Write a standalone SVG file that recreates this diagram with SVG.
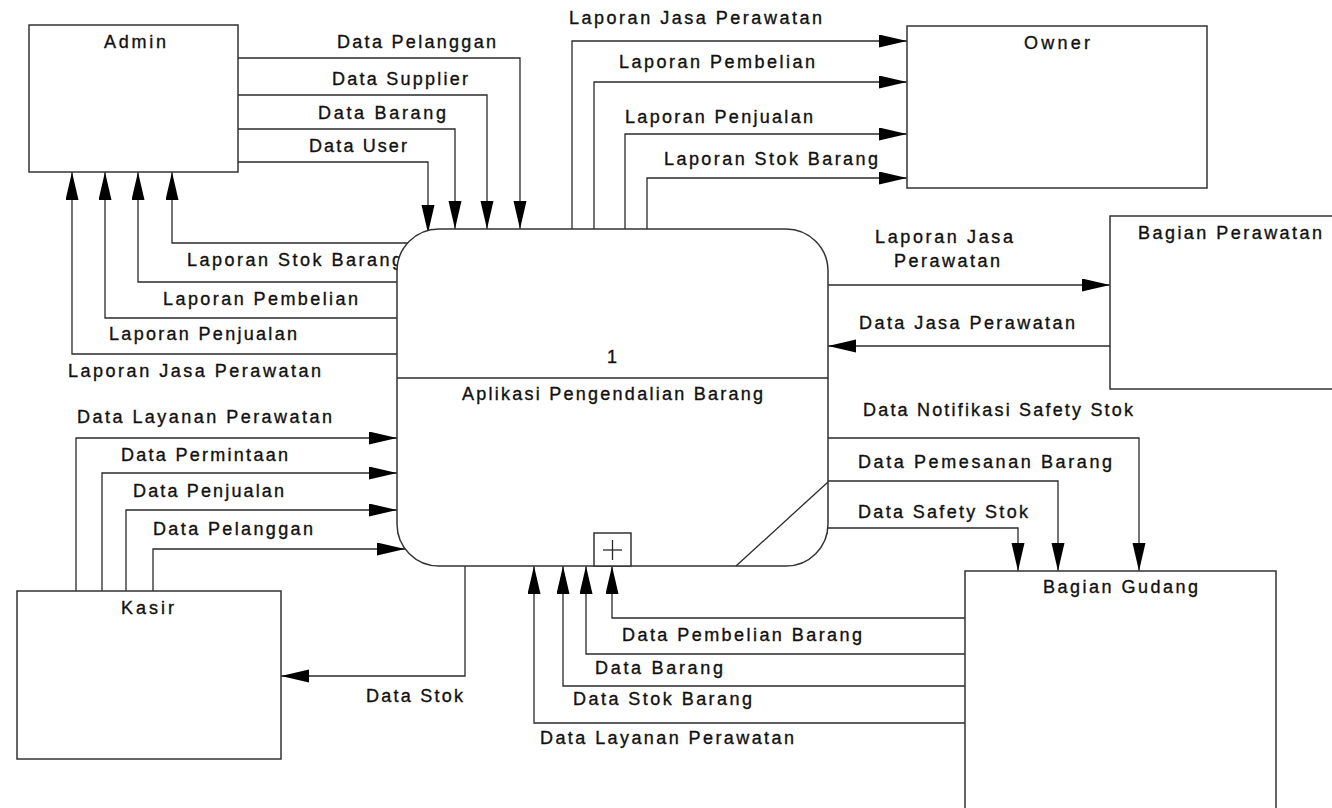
<svg xmlns="http://www.w3.org/2000/svg" width="1332" height="808" viewBox="0 0 1332 808">
<style>
text{font-family:"Liberation Sans",Arial,sans-serif;font-size:18px;fill:#111;stroke:#111;stroke-width:0.35px;}
.c{fill:none;stroke:#2a2a2a;stroke-width:1.3;}
.n{fill:#fff;stroke:#333;stroke-width:1.5;}
</style>
<defs>
<marker id="ah" markerUnits="userSpaceOnUse" markerWidth="29" markerHeight="14" refX="28" refY="6.5" orient="auto">
<path d="M0,0 L28,6.5 L0,13 Z" fill="#000"/>
</marker>
</defs>
<rect width="1332" height="808" fill="#fff"/>
<g id="connectors">
<path class="c" marker-end="url(#ah)" d="M238,58 H520 V229"/>
<path class="c" marker-end="url(#ah)" d="M238,95 H487 V229"/>
<path class="c" marker-end="url(#ah)" d="M238,129 H455 V229"/>
<path class="c" marker-end="url(#ah)" d="M238,162 H428 V233"/>
<path class="c" marker-end="url(#ah)" d="M410,243 H172 V172"/>
<path class="c" marker-end="url(#ah)" d="M397,282 H138 V172"/>
<path class="c" marker-end="url(#ah)" d="M397,318 H105 V172"/>
<path class="c" marker-end="url(#ah)" d="M397,354 H72 V172"/>
<path class="c" marker-end="url(#ah)" d="M572,229 V41 H907"/>
<path class="c" marker-end="url(#ah)" d="M594,229 V82 H907"/>
<path class="c" marker-end="url(#ah)" d="M625,229 V134 H907"/>
<path class="c" marker-end="url(#ah)" d="M647,229 V178 H907"/>
<path class="c" marker-end="url(#ah)" d="M828,285 H1110"/>
<path class="c" marker-end="url(#ah)" d="M1110,346 H828"/>
<path class="c" marker-end="url(#ah)" d="M828,438 H1139 V571"/>
<path class="c" marker-end="url(#ah)" d="M828,481 H1058 V571"/>
<path class="c" marker-end="url(#ah)" d="M828,528 H1018 V571"/>
<path class="c" marker-end="url(#ah)" d="M76,591 V438 H397"/>
<path class="c" marker-end="url(#ah)" d="M102,591 V473 H397"/>
<path class="c" marker-end="url(#ah)" d="M126,591 V510 H397"/>
<path class="c" marker-end="url(#ah)" d="M153,591 V549 H405"/>
<path class="c" marker-end="url(#ah)" d="M465,566 V676 H281"/>
<path class="c" marker-end="url(#ah)" d="M965,618 H612 V566"/>
<path class="c" marker-end="url(#ah)" d="M965,654 H586 V566"/>
<path class="c" marker-end="url(#ah)" d="M965,686 H563 V566"/>
<path class="c" marker-end="url(#ah)" d="M965,723 H534 V566"/>
<text x="337" y="48" textLength="159" lengthAdjust="spacing">Data Pelanggan</text>
<text x="332" y="85" textLength="136" lengthAdjust="spacing">Data Supplier</text>
<text x="318" y="119" textLength="128" lengthAdjust="spacing">Data Barang</text>
<text x="309" y="152" textLength="98" lengthAdjust="spacing">Data User</text>
<text x="569" y="24" textLength="253" lengthAdjust="spacing">Laporan Jasa Perawatan</text>
<text x="619" y="68" textLength="196" lengthAdjust="spacing">Laporan Pembelian</text>
<text x="625" y="123" textLength="188" lengthAdjust="spacing">Laporan Penjualan</text>
<text x="664" y="165" textLength="214" lengthAdjust="spacing">Laporan Stok Barang</text>
<text x="875" y="243" textLength="138" lengthAdjust="spacing">Laporan Jasa</text>
<text x="894" y="267" textLength="106" lengthAdjust="spacing">Perawatan</text>
<text x="859" y="329" textLength="216" lengthAdjust="spacing">Data Jasa Perawatan</text>
<text x="863" y="416" textLength="270" lengthAdjust="spacing">Data Notifikasi Safety Stok</text>
<text x="858" y="468" textLength="254" lengthAdjust="spacing">Data Pemesanan Barang</text>
<text x="858" y="518" textLength="170" lengthAdjust="spacing">Data Safety Stok</text>
<text x="187" y="266" textLength="215" lengthAdjust="spacing">Laporan Stok Barang</text>
<text x="163" y="305" textLength="195" lengthAdjust="spacing">Laporan Pembelian</text>
<text x="109" y="340" textLength="188" lengthAdjust="spacing">Laporan Penjualan</text>
<text x="68" y="377" textLength="253" lengthAdjust="spacing">Laporan Jasa Perawatan</text>
<text x="77" y="423" textLength="255" lengthAdjust="spacing">Data Layanan Perawatan</text>
<text x="121" y="461" textLength="167" lengthAdjust="spacing">Data Permintaan</text>
<text x="133" y="497" textLength="151" lengthAdjust="spacing">Data Penjualan</text>
<text x="153" y="535" textLength="160" lengthAdjust="spacing">Data Pelanggan</text>
<text x="366" y="702" textLength="97" lengthAdjust="spacing">Data Stok</text>
<text x="622" y="641" textLength="240" lengthAdjust="spacing">Data Pembelian Barang</text>
<text x="595" y="674" textLength="128" lengthAdjust="spacing">Data Barang</text>
<text x="573" y="705" textLength="179" lengthAdjust="spacing">Data Stok Barang</text>
<text x="540" y="744" textLength="254" lengthAdjust="spacing">Data Layanan Perawatan</text>
</g>
<g id="admin">
<rect class="n" x="29" y="25" width="209" height="147"/>
<text x="104" y="48" textLength="62" lengthAdjust="spacing">Admin</text>
</g>
<g id="owner">
<rect class="n" x="907" y="26" width="300" height="162"/>
<text x="1024" y="49" textLength="66" lengthAdjust="spacing">Owner</text>
</g>
<g id="bagian-perawatan">
<rect class="n" x="1110" y="216" width="240" height="173"/>
<text x="1138" y="239" textLength="184" lengthAdjust="spacing">Bagian Perawatan</text>
</g>
<g id="kasir">
<rect class="n" x="17" y="591" width="264" height="168"/>
<text x="121" y="614" textLength="53" lengthAdjust="spacing">Kasir</text>
</g>
<g id="bagian-gudang">
<rect class="n" x="965" y="571" width="311" height="250"/>
<text x="1043" y="593" textLength="155" lengthAdjust="spacing">Bagian Gudang</text>
</g>
<g id="process">
<rect class="n" x="397" y="229" width="431" height="337" rx="42" ry="42"/>
<line class="c" x1="397" y1="378" x2="828" y2="378"/>
<line class="c" x1="736" y1="566" x2="828" y2="482"/>
<rect class="n" x="594" y="533" width="37" height="33" stroke-width="1.2"/>
<line class="c" x1="603" y1="550" x2="622" y2="550"/>
<line class="c" x1="612.5" y1="540" x2="612.5" y2="560"/>
<text x="612" y="363" text-anchor="middle">1</text>
<text x="462" y="400" textLength="301" lengthAdjust="spacing">Aplikasi Pengendalian Barang</text>
</g>
</svg>
